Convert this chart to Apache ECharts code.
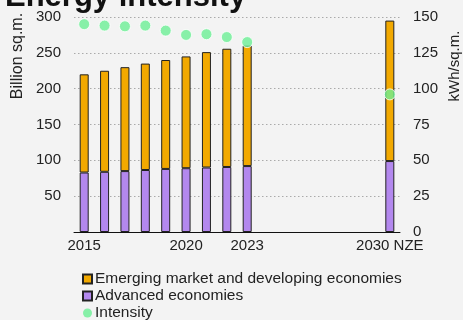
<!DOCTYPE html>
<html>
<head>
<meta charset="utf-8">
<script src="https://cdn.jsdelivr.net/npm/echarts@6/dist/echarts.min.js"></script>
<style>
  html, body { margin: 0; padding: 0; background: #f3f3f3; }
  #chart { width: 463px; height: 320px; }
</style>
</head>
<body>
<div id="chart"></div>
<script>
// Floor area (billion sq.m.) and energy intensity (kWh/sq.m.), 2015-2023 and the 2030 NZE milestone
const categories = ['2015', '2016', '2017', '2018', '2019', '2020', '2021', '2022', '2023',
  '2024', '2025', '2026', '2027', '2028', '2029', '2030 NZE'];
const shownLabels = ['2015', '2020', '2023', '2030 NZE'];
const advanced = [83, 84, 85, 86.5, 88, 89, 90, 90.7, 92, null, null, null, null, null, null, 99];
const emerging = [137, 141, 145, 148.5, 152, 156, 161, 165, 168, null, null, null, null, null, null, 196];
const intensity = [145, 144, 143.5, 144, 140.5, 137.5, 138, 136, 132.5, null, null, null, null, null, null, 96];
const leftTicks = [0, 300, 50];
const rightTicks = [0, 150, 25];

const FONT = 'Liberation Sans, Arial, sans-serif';
const chart = echarts.init(document.getElementById('chart'), null, { renderer: 'canvas' });

chart.setOption({
  backgroundColor: '#f3f3f3',
  animation: false,
  textStyle: { fontFamily: FONT },
  title: {
    text: 'Energy intensity',
    left: 0,
    top: -23,
    textStyle: { fontFamily: FONT, fontSize: 31, fontWeight: 'bold', color: '#111' }
  },
  grid: { left: 74, right: 63, top: 17, bottom: 88 },
  legend: {
    orient: 'vertical',
    left: 82,
    top: 271,
    height: 60,
    padding: 0,
    itemGap: 1,
    itemWidth: 9,
    itemHeight: 9,
    textStyle: { fontFamily: FONT, fontSize: 15.5, color: '#222', padding: [0, 0, 0, -2] },
    data: [
      { name: 'Emerging market and developing economies', icon: 'rect' },
      { name: 'Advanced economies', icon: 'rect' },
      { name: 'Intensity', icon: 'circle', itemStyle: { borderWidth: 0 } }
    ]
  },
  graphic: [
    {
      type: 'text', x: 18, y: 56, rotation: Math.PI / 2,
      style: { text: 'Billion sq.m.', fontFamily: FONT, fontSize: 16, fill: '#222', align: 'center', verticalAlign: 'middle' }
    },
    {
      type: 'text', x: 455, y: 66, rotation: Math.PI / 2,
      style: { text: 'kWh/sq.m.', fontFamily: FONT, fontSize: 15, fill: '#222', align: 'center', verticalAlign: 'middle' }
    }
  ],
  xAxis: {
    type: 'category',
    data: categories,
    boundaryGap: true,
    axisLine: { lineStyle: { color: '#111', width: 1 } },
    axisTick: { show: false },
    axisLabel: {
      interval: 0,
      margin: 6,
      fontFamily: FONT, fontSize: 15, color: '#222',
      formatter: v => (shownLabels.includes(v) ? v : '')
    },
    splitLine: { show: false }
  },
  yAxis: [
    {
      type: 'value',
      min: leftTicks[0], max: leftTicks[1], interval: leftTicks[2],
      axisLine: { show: false },
      axisTick: { show: false },
      axisLabel: {
        margin: 13,
        fontFamily: FONT, fontSize: 15, color: '#222',
        formatter: v => (v === 0 ? '' : String(v))
      },
      splitLine: { lineStyle: { color: '#aaa', type: [1.5, 2.5], width: 1 } }
    },
    {
      type: 'value',
      min: rightTicks[0], max: rightTicks[1], interval: rightTicks[2],
      position: 'right',
      axisLine: { show: false },
      axisTick: { show: false },
      axisLabel: { margin: 13, fontFamily: FONT, fontSize: 15, color: '#222' },
      splitLine: { show: false }
    }
  ],
  series: [
    {
      name: 'Advanced economies',
      type: 'bar',
      stack: 'area',
      data: advanced,
      barWidth: 9,
      itemStyle: { color: '#b388ee', borderColor: '#222', borderWidth: 1 }
    },
    {
      name: 'Emerging market and developing economies',
      type: 'bar',
      stack: 'area',
      data: emerging,
      barWidth: 9,
      itemStyle: { color: '#f2a900', borderColor: '#222', borderWidth: 1 }
    },
    {
      name: 'Intensity',
      type: 'scatter',
      yAxisIndex: 1,
      data: intensity,
      symbol: 'circle',
      symbolSize: 11,
      z: 5,
      itemStyle: { color: '#6bef95', borderColor: '#ffffff', borderWidth: 1 }
    }
  ]
});
</script>
</body>
</html>
